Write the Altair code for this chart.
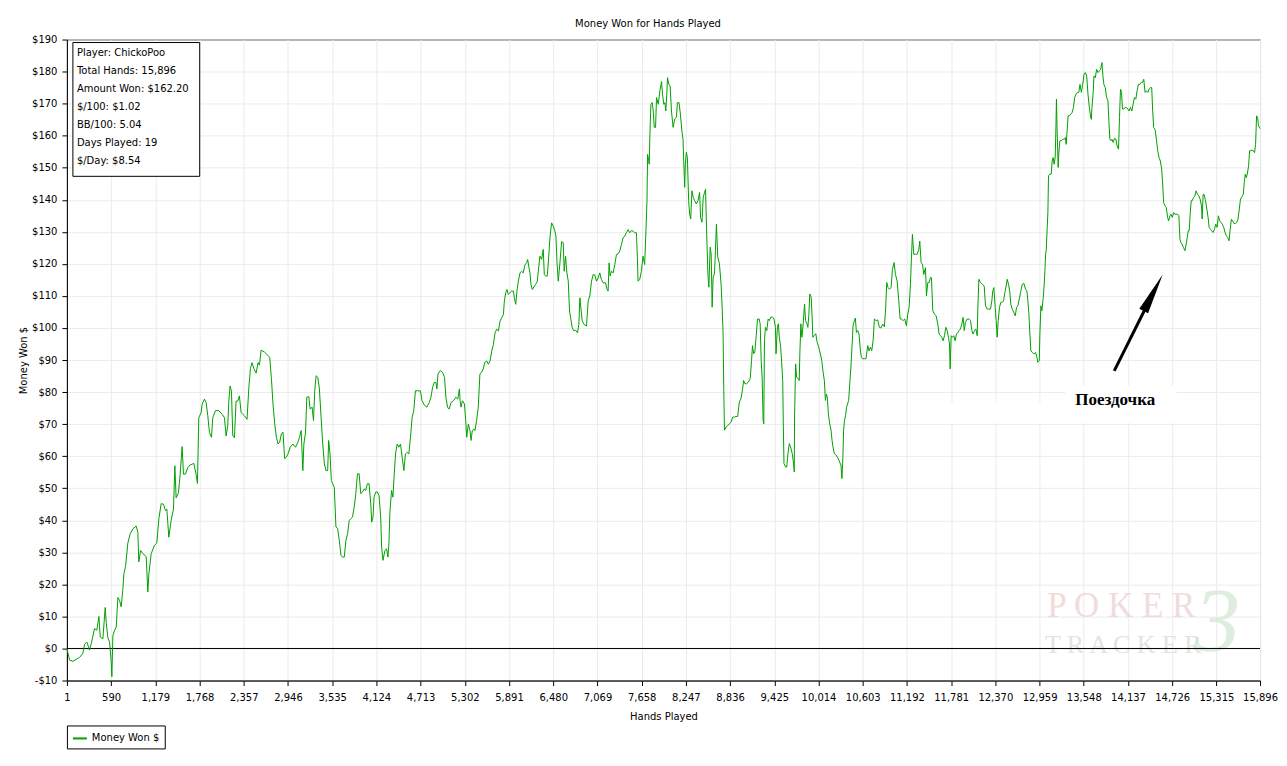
import altair as alt
import pandas as pd

FONT = "DejaVu Sans"
GREEN = "#00a000"

# ---- series: hands played vs. money won ($) ----
hands_a = [1, 36, 81, 125, 170, 214, 236, 267, 303, 325, 369, 400, 427, 445, 480, 511, 525, 547, 569, 591,
           600, 613, 636, 658, 680, 702, 724, 746, 760, 782, 813, 844, 880, 924, 946, 959, 982, 1013, 1057, 1079,
           1093, 1124, 1168, 1199, 1226, 1257, 1288, 1314, 1332, 1359, 1390, 1421, 1439, 1456, 1487, 1510, 1536, 1554, 1581, 1612,
           1643, 1669, 1691, 1722, 1740, 1758, 1789, 1802, 1833, 1856, 1878, 1900, 1927, 1944, 1980, 2024, 2069, 2100, 2122, 2144,
           2158, 2175, 2193, 2211, 2233, 2255, 2277, 2299, 2322, 2366, 2401, 2424, 2446, 2468, 2490, 2521, 2548, 2566, 2588, 2632, 2677]
won_a = [0, -3.6, -4, -3.4, -2.8, -1.5, 1.3, 2, -0.5, 1.5, 6.2, 5.7, 10, 3.6, 3, 12.8, 8, 3.3, 2, -4,
         -8.8, 4, 5.7, 6.7, 15.9, 15, 13, 18.4, 23.3, 25.6, 32.9, 35.8, 37.3, 38.2, 36.3, 27, 30.6, 29.6, 28.7, 17.6,
         23.3, 29.6, 32.2, 32.9, 40.5, 45.2, 45, 43, 43.5, 34.7, 40, 43.5, 57, 47, 48.6, 54.4, 63, 54.4, 54.4, 56.5,
         57.3, 57.5, 57.8, 54.4, 51.5, 72, 73.6, 76.2, 77.8, 76.7, 72.6, 67.4, 65.9, 72, 74.2, 74.2, 73.1, 72, 66.3, 69.5,
         77.2, 81.9, 80.3, 66.3, 65.8, 77.2, 77.2, 78.8, 73.6, 72.6, 71.5, 81.2, 87.4, 89.2, 87.4, 85.9, 89.2, 88.4, 93.1, 92.5, 91.5]

hands_b = [2703, 2726, 2748, 2770, 2792, 2814, 2836, 2858, 2880, 2902, 2924, 2946, 2977, 3012, 3047, 3078, 3100, 3122, 3144, 3158,
           3180, 3197, 3224, 3241, 3268, 3286, 3303, 3321, 3343, 3365, 3387, 3409, 3431, 3453, 3475, 3488, 3506, 3524, 3541, 3563,
           3585, 3608, 3630, 3652, 3674, 3696, 3718, 3740, 3762, 3784, 3806, 3828, 3850, 3872, 3894, 3916, 3938, 3960, 3982, 4004,
           4026, 4049, 4062, 4079, 4093, 4115, 4137, 4159, 4181, 4194, 4212, 4238, 4260, 4278, 4291, 4304, 4326, 4344, 4362, 4379,
           4401, 4423, 4445, 4467, 4490, 4511, 4534, 4556, 4578, 4600, 4622, 4644, 4679, 4710, 4732, 4767, 4798, 4829, 4851, 4873,
           4895, 4917, 4930, 4944, 4975, 5005, 5032, 5050, 5072, 5094, 5120, 5151, 5182, 5208, 5230, 5239, 5252, 5270, 5297, 5314,
           5327, 5349, 5371, 5385, 5402, 5424, 5437, 5459, 5481, 5503, 5525, 5547, 5569]
won_b = [90.8, 84, 75.8, 70, 65.9, 63.8, 64.4, 67, 67.5, 59.2, 59.7, 60.7, 62.8, 63.8, 62.8, 64.4, 65.9, 68, 55.5, 63.8,
         67.5, 78.4, 78.6, 74.7, 75.3, 71.1, 80.4, 85.1, 84.6, 81, 72.1, 63.8, 57.6, 55.5, 55.5, 64.9, 60.7, 52.4, 51.4, 50.3,
         37.9, 37.4, 33.7, 29.1, 28.5, 28.5, 33.7, 35.8, 39.9, 40.5, 41, 44.1, 48.3, 54.5, 54.5, 48.3, 48.8, 49.8, 49.3, 51.4,
         51.4, 45.1, 39.4, 41, 47.2, 48.8, 48.8, 47.7, 41, 31.6, 27.5, 30.6, 31.1, 28.5, 32.7, 42.5, 49.3, 47.2, 54.5, 60.7,
         63.8, 62.8, 63.8, 59.7, 55.5, 60.7, 61.2, 60.7, 65.9, 72.1, 74.2, 80.4, 80.4, 80.4, 77.3, 75.8, 75.3, 76.8, 78.4, 81.5,
         83, 83, 81, 85.6, 86.7, 86.2, 84.6, 78.4, 75.3, 74.7, 76.8, 77.3, 78.4, 77.8, 81, 77.3, 75.3, 77.3, 76.3, 71.1,
         65.9, 70, 68, 64.9, 68, 68.5, 68, 71.1, 75.3, 85.6, 86.2, 87.2, 89.3]

hands_c = [5594, 5616, 5638, 5661, 5683, 5705, 5727, 5749, 5772, 5794, 5816, 5829, 5847, 5864, 5882, 5904, 5926, 5949, 5962, 5980,
           5997, 6015, 6037, 6059, 6081, 6104, 6126, 6139, 6157, 6170, 6183, 6201, 6223, 6245, 6268, 6281, 6303, 6325, 6347, 6361,
           6378, 6400, 6414, 6436, 6458, 6480, 6502, 6516, 6529, 6547, 6569, 6591, 6613, 6626, 6644, 6662, 6680, 6697, 6715, 6733,
           6755, 6777, 6804, 6821, 6835, 6848, 6866, 6892, 6923, 6945, 6967, 6990, 7012, 7034, 7056, 7078, 7100, 7122, 7145, 7176,
           7198, 7211, 7224, 7238, 7255, 7278, 7300, 7322, 7344, 7366, 7388, 7410, 7433, 7455, 7477, 7499, 7521, 7543, 7565, 7588,
           7601, 7610, 7632, 7654, 7676, 7698]
won_c = [89.7, 88.7, 89.7, 92.8, 94.9, 98.5, 99.6, 99.1, 102.2, 103.2, 104.2, 108.4, 111, 112, 110.5, 111, 111.5, 111.5, 109.4, 107.4,
         111.5, 114.6, 117.2, 117.7, 117.2, 119.8, 120.3, 121.4, 118.8, 117.2, 113.6, 112, 112.8, 113.6, 114.6, 117.7, 122.4, 121.4, 124.5, 116.7,
         116.2, 116.2, 120.3, 128.1, 132.8, 131.8, 130.2, 128.7, 120.9, 114.6, 120.3, 126.9, 126.6, 117.7, 122.4, 117.2, 114.6, 105.3, 102.7, 100.1,
         99.1, 99.3, 98.5, 101.1, 109.4, 106.3, 102.2, 101.1, 100.6, 108.4, 110, 114.6, 116.7, 116.5, 114.6, 115.6, 117.2, 115.1, 114.1, 114.1,
         112, 111.5, 120.3, 116.2, 117.7, 117.2, 119.8, 122.9, 123.1, 124, 126, 128.1, 128.7, 129.7, 130.7, 129.7, 130.4, 130.2, 129.7, 129.7,
         121.9, 114.6, 115.1, 117.7, 122.4, 119.8]

hands_d = [7715, 7729, 7737, 7751, 7759, 7768, 7781, 7799, 7812, 7826, 7843, 7856, 7879, 7901, 7923, 7936, 7953, 7967, 7980, 7993,
           8002, 8020, 8037, 8055, 8077, 8099, 8121, 8134, 8156, 8174, 8196, 8209, 8218, 8231, 8240, 8253, 8267, 8284, 8297, 8311,
           8328, 8346, 8364, 8386, 8408, 8430, 8443, 8461, 8478, 8496, 8509, 8522, 8540, 8553, 8571, 8584, 8597, 8610, 8628, 8641,
           8654, 8672, 8694, 8716, 8730, 8743, 8752, 8761, 8783, 8805, 8827, 8849, 8871, 8893, 8915, 8937, 8959, 8981, 9003, 9016,
           9034, 9056, 9078, 9104, 9122, 9135, 9149, 9166, 9184, 9202, 9224, 9237, 9250, 9263, 9276, 9285, 9294, 9307, 9325, 9343,
           9361, 9378, 9400, 9422, 9440, 9448, 9466, 9479, 9492, 9510, 9523, 9537, 9545, 9554, 9576, 9590, 9607, 9625, 9642, 9664,
           9682, 9691, 9695, 9709, 9722, 9740, 9757, 9766, 9779, 9792, 9810, 9828, 9841, 9859, 9872, 9885, 9898, 9916, 9929, 9938,
           9960, 9978, 9995, 10017, 10039, 10057, 10075, 10092, 10106, 10119, 10132, 10145, 10163, 10181, 10194, 10207, 10225, 10251, 10277, 10295,
           10313, 10326, 10339, 10348, 10361, 10375, 10388]
won_d = [130.4, 139.7, 154.2, 152.2, 151.1, 160.5, 169.8, 170.3, 167.7, 162.6, 162.6, 171.9, 169.8, 174, 176.9, 172.9, 169.8, 170.3, 167.7, 172.9,
         178.1, 176.1, 175.5, 167.7, 162.6, 165.2, 165.7, 170.3, 170.3, 166.7, 161, 158.9, 152.2, 143.9, 151.1, 154.8, 153.2, 139.7, 135.6, 134,
         142.8, 140.7, 139.7, 138.7, 139.7, 142.3, 134.5, 133, 140.7, 142.3, 143.3, 131.4, 116.9, 112.7, 125.2, 123.1, 106.5, 115.8, 116.9, 124.1,
         132.4, 122.1, 120, 113.7, 106.5, 98.2, 80.5, 68.1, 69.1, 69.6, 70.1, 70.6, 72.2, 72.2, 72.4, 72.4, 76.9, 77.9, 81, 83.6,
         82.6, 82.6, 83.1, 84.2, 89.9, 94.5, 92, 92.5, 97.7, 102.8, 102.8, 101.3, 89.9, 84.7, 71.2, 70.1, 96.1, 100.2, 99.2, 102.8,
         102.3, 103.4, 103.4, 102.8, 100.2, 91.9, 100.2, 101.3, 97.1, 94, 89.3, 83.6, 70.1, 57.7, 56.6, 56.6, 60.8, 63.9, 62.9, 60.8,
         57.7, 55.1, 72.2, 88.8, 84.7, 84.2, 83.6, 92.5, 101.3, 97.1, 101.3, 107.5, 102.3, 101.3, 100.2, 103.9, 110.6, 109.6, 103.4, 97.1,
         97.7, 98.2, 95.6, 94, 91.9, 89.9, 86.2, 83.6, 77.4, 79.4, 78.3, 73.2, 70.1, 68.1, 65, 62.9, 60.8, 60.3, 59.2, 58.2,
         57.2, 53, 59.8, 68.1, 71.2, 72.7, 75.3]

hands_e = [10416, 10430, 10447, 10461, 10474, 10492, 10505, 10519, 10536, 10554, 10572, 10585, 10603, 10625, 10647, 10670, 10687, 10705, 10723, 10741,
           10759, 10781, 10803, 10825, 10847, 10870, 10892, 10910, 10923, 10941, 10959, 10981, 10999, 11021, 11039, 11061, 11083, 11101, 11119, 11141,
           11163, 11185, 11203, 11221, 11239, 11252, 11265, 11283, 11305, 11328, 11350, 11363, 11381, 11399, 11416, 11439, 11452, 11470, 11488, 11505,
           11519, 11536, 11559, 11581, 11603, 11621, 11639, 11656, 11674, 11692, 11710, 11728, 11745, 11759, 11768, 11781, 11799, 11816, 11834, 11852,
           11870, 11888, 11905, 11923, 11941, 11955, 11972, 11994, 12017, 12039, 12057, 12074, 12092, 12110, 12128, 12137, 12150, 12172, 12199, 12221,
           12239, 12261, 12283, 12305, 12323, 12336, 12350, 12368, 12381, 12394, 12408, 12425, 12443, 12461, 12479, 12497, 12514, 12528, 12546, 12563,
           12576, 12594, 12617, 12635, 12652, 12670, 12688, 12706, 12728, 12750, 12772, 12790, 12803, 12817, 12830, 12843, 12861, 12883, 12906, 12923,
           12937, 12955, 12963, 12977, 12990]
won_e = [77.4, 82.6, 88.3, 94.5, 100.7, 102.3, 103.1, 98.6, 99.2, 98.1, 92.9, 90.9, 90.4, 90.4, 90.4, 94.5, 92.9, 94, 92.9, 96,
         102.8, 102.3, 102.5, 100.2, 100, 101.2, 100.4, 106.9, 114.2, 112.6, 112.1, 112.6, 118.3, 120.4, 116.7, 114.7, 108.5, 102.8, 102.8, 102.3,
         102.8, 100.7, 104.3, 106.4, 113.6, 121.9, 129.2, 123, 123, 123, 124.5, 127.1, 120.4, 119.9, 116.7, 118.8, 110, 114.2, 114.2, 115.7,
         115.7, 105.4, 104.3, 103.8, 101.2, 98.1, 97.6, 97.1, 96, 97.6, 100.2, 99.2, 97.1, 95, 87.2, 97.6, 97.1, 97.6, 96, 98.1,
         98.6, 99.2, 99.7, 101.2, 103.3, 99.2, 101.8, 102.8, 102.8, 102.3, 99.2, 98.1, 99.2, 99.7, 97.6, 106.4, 115.2, 114.2, 113.6, 113.1,
         106.9, 105.9, 105.9, 105.9, 108.5, 111.6, 112.6, 106.4, 102.3, 97.1, 102.3, 106.4, 108, 108, 108.5, 111.1, 113.1, 115.2, 113.6, 111.1,
         107.4, 105.9, 104.8, 103.8, 106.4, 106.9, 109, 111.1, 113.6, 113.9, 112.1, 111.6, 108.5, 104.3, 98.1, 92.9, 92.4, 91.9, 92.4, 90.9,
         89.3, 89.8, 98.1, 106.9, 105.4]

hands_f = [13008, 13021, 13030, 13039, 13047, 13061, 13070, 13078, 13096, 13114, 13127, 13140, 13153, 13167, 13176, 13184, 13193, 13207, 13215, 13229,
           13246, 13268, 13291, 13304, 13313, 13326, 13339, 13357, 13374, 13392, 13410, 13427, 13445, 13463, 13481, 13498, 13516, 13534, 13551, 13569,
           13587, 13604, 13622, 13640, 13649, 13657, 13671, 13684, 13702, 13719, 13737, 13755, 13772, 13790, 13803, 13816, 13834, 13852, 13870, 13883,
           13896, 13909, 13923, 13940, 13958, 13976, 13993, 14011, 14024, 14037, 14051, 14064, 14082, 14099, 14117, 14135, 14152, 14170, 14188, 14205,
           14223, 14241, 14258, 14276, 14294, 14312, 14329, 14347, 14365, 14382, 14400, 14418, 14435, 14453, 14466, 14479, 14497, 14515, 14533, 14550,
           14568, 14586, 14599, 14612, 14630, 14647, 14665, 14678, 14696, 14709, 14727, 14745, 14762, 14780, 14798, 14815, 14829, 14842, 14856, 14877,
           14895, 14913, 14926, 14939, 14952, 14965, 14979, 14992, 15010, 15028, 15045, 15063, 15081, 15098, 15116, 15125, 15138, 15151, 15165, 15178,
           15191, 15204, 15218, 15235, 15253, 15271, 15288, 15306, 15324, 15341, 15359, 15377, 15394, 15412, 15430, 15447, 15465, 15483, 15496, 15514,
           15531, 15549, 15567, 15584, 15602, 15620, 15633, 15646, 15660, 15673, 15686, 15699, 15713, 15726, 15744, 15757, 15770, 15788, 15806, 15823,
           15837, 15850, 15863, 15876, 15896]
won_f = [109.5, 113.7, 117.8, 123, 124.1, 131.4, 136, 147.5, 148, 148, 152.1, 153.2, 151.1, 153.2, 161.5, 171.4, 161.5, 150.1, 154.2, 158.4,
         158.4, 158.9, 158.9, 159.4, 157.3, 161.5, 166.2, 166.2, 166.7, 167.2, 168.8, 171.9, 172.9, 173.5, 173.5, 176, 173.5, 176, 179.2, 179.7,
         178.6, 172.9, 168.8, 165.7, 165.1, 168.8, 172.9, 178.6, 178.1, 180.7, 179.7, 180.2, 180.7, 182.8, 178.6, 176, 175, 171.9, 170.9, 164.1,
         158.9, 158.4, 158.9, 157.9, 159.2, 158.9, 156.8, 155.8, 165.7, 174.5, 173.5, 168.3, 168.3, 168.8, 168.8, 168.3, 167.7, 168.8, 167.7, 169.8,
         171.9, 171.4, 174, 176, 176, 176.6, 176.6, 177.6, 173.5, 174, 173.5, 174.5, 175, 175, 167.7, 162.5, 162, 158.9, 155.3, 153.2,
         152.1, 149.5, 144.9, 139.1, 138.1, 137.6, 134.5, 133.4, 135, 135.5, 134.5, 136, 135.5, 135.5, 135.5, 135, 127.7, 126.7, 126.2, 125.1,
         124.1, 126.2, 128.2, 130.3, 130.3, 135.5, 139.7, 139.7, 140.7, 141.2, 142.8, 141.7, 141.2, 140.2, 138.1, 134, 141.7, 141.7, 140.2, 138.6,
         136.5, 134.5, 131.4, 130.8, 130.3, 129.8, 130.8, 132.4, 131.4, 135, 133.4, 132.9, 132.4, 131.4, 129.8, 128.8, 128.2, 127.2, 130.3, 133.9,
         133.4, 132.6, 132.6, 132.9, 133.9, 137.1, 139.7, 140.7, 141.2, 141.7, 145.4, 148, 146.9, 148, 150.6, 155.3, 155.3, 155.5, 155.3, 154.7,
         157.3, 166.2, 165.7, 163.1, 162.2]

# ---- axes ----
x_tick_values = [1, 590, 1179, 1768, 2357, 2946, 3535, 4124, 4713, 5302, 5891, 6480, 7069, 7658,
                 8247, 8836, 9425, 10014, 10603, 11192, 11781, 12370, 12959, 13548, 14137, 14726, 15315, 15896]
y_tick_values = [-10, 0, 10, 20, 30, 40, 50, 60, 70, 80, 90, 100, 110, 120, 130, 140, 150, 160, 170, 180, 190]

# ---- stats box ----
info_lines = ["Player: ChickoPoo", "Total Hands: 15,896", "Amount Won: $162.20", "$/100: $1.02",
              "BB/100: 5.04", "Days Played: 19", "$/Day: $8.54"]

# ---- annotation (in data units) ----
note_text = ["Поездочка"]
note_hands = [13967]
note_won = [77.5]
arrow_from_hands, arrow_from_won = [13954], [86.6]
arrow_head_hands, arrow_head_won = [14473], [111.0]

series_name = "Money Won $"
hands = hands_a + hands_b + hands_c + hands_d + hands_e + hands_f
won = won_a + won_b + won_c + won_d + won_e + won_f
df = pd.DataFrame({"hands": hands, "won": won, "series": series_name})

x_enc = alt.X("hands:Q",
              scale=alt.Scale(domain=[1, 15896], nice=False, zero=False),
              axis=alt.Axis(values=x_tick_values, title="Hands Played",
                            labelExpr="format(datum.value, ',')",
                            tickSize=5, labelPadding=7, titlePadding=9,
                            labelFlush=False, labelOverlap=False))
y_enc = alt.Y("won:Q",
              scale=alt.Scale(domain=[-10, 190], nice=False, zero=False),
              axis=alt.Axis(values=y_tick_values, title="Money Won $",
                            labelExpr="(datum.value < 0 ? '-$' : '$') + abs(datum.value)",
                            tickSize=5, labelPadding=5, titlePadding=3, labelOverlap=False))

one = pd.DataFrame({"k": [0]})

patch_a = alt.Chart(one).mark_rect(color="white").encode(
    x=alt.value(878), x2=alt.value(1113), y=alt.value(364), y2=alt.value(384))
patch_b = alt.Chart(one).mark_rect(color="white").encode(
    x=alt.value(1000), x2=alt.value(1111), y=alt.value(347), y2=alt.value(384))

wm_poker = alt.Chart(one).mark_text(text="P O K E R", font="Liberation Serif", fontSize=35,
                                    color="#eed4d4", opacity=0.8, align="center", baseline="middle").encode(
    x=alt.value(1056), y=alt.value(567))
wm_tracker = alt.Chart(one).mark_text(text="T R A C K E R", font="Liberation Serif", fontSize=26,
                                      color="#dde3dd", opacity=0.9, align="center", baseline="middle").encode(
    x=alt.value(1058), y=alt.value(606))
wm_three = alt.Chart(one).mark_text(text="3", font="Liberation Serif", fontSize=92, fontStyle="italic",
                                    color="#d6e9d6", opacity=0.8, align="center", baseline="middle").encode(
    x=alt.value(1152), y=alt.value(584))

zero_rule = alt.Chart(pd.DataFrame({"won": [0]})).mark_rule(color="black", strokeWidth=1).encode(y=y_enc)

line = alt.Chart(df).mark_line(strokeWidth=1, interpolate="linear").encode(
    x=x_enc, y=y_enc,
    color=alt.Color("series:N",
                    scale=alt.Scale(domain=[series_name], range=[GREEN]),
                    legend=alt.Legend(title=None, orient="none", legendX=0, legendY=687,
                                      strokeColor="black", fillColor="white", padding=5,
                                      labelFont=FONT, labelFontSize=10, labelColor="black",
                                      symbolType="stroke", symbolSize=196, symbolStrokeWidth=2,
                                      labelOffset=4)))

info_box = alt.Chart(one).mark_rect(fill="white", stroke="black", strokeWidth=1).encode(
    x=alt.value(6), x2=alt.value(133), y=alt.value(3), y2=alt.value(137))
info_df = pd.DataFrame({"line": info_lines, "row": list(range(len(info_lines)))})
info_text = alt.Chart(info_df).mark_text(font=FONT, fontSize=10, color="black",
                                         align="left", baseline="middle").transform_calculate(
    ypos="13.5 + 18 * datum.row").encode(
    x=alt.value(10), y=alt.Y("ypos:Q", scale=None), text="line:N")

note_df = pd.DataFrame({"hands": note_hands, "won": note_won, "label": note_text})
note = alt.Chart(note_df).mark_text(font="Liberation Serif", fontSize=17, fontWeight="bold",
                                    color="black", align="center", baseline="middle").encode(
    x=x_enc, y=y_enc, text="label:N")

arrow_df = pd.DataFrame({"hands": arrow_from_hands, "won": arrow_from_won,
                         "hands2": arrow_head_hands, "won2": arrow_head_won})
arrow_shaft = alt.Chart(arrow_df).mark_rule(color="black", strokeWidth=3).encode(
    x=x_enc, y=y_enc, x2="hands2:Q", y2="won2:Q")
head_df = pd.DataFrame({"hands": arrow_head_hands, "won": arrow_head_won})
arrow_head = alt.Chart(head_df).mark_point(shape="M0,-1L0.24,1L-0.24,1Z", filled=True, color="black",
                                           opacity=1, size=1700, angle=27.5).encode(x=x_enc, y=y_enc)

chart = alt.layer(
    patch_a, patch_b, wm_poker, wm_tracker, wm_three, zero_rule, line,
    info_box, info_text, note, arrow_shaft, arrow_head
).properties(
    width=1195, height=642,
    title=alt.TitleParams("Money Won for Hands Played", font=FONT, fontSize=10,
                          fontWeight="normal", color="black", anchor="middle", offset=6,
                          frame="bounds"),
    padding={"left": 59, "top": 31, "right": 19, "bottom": 72},
    autosize=alt.AutoSizeParams(type="none"),
    background="white",
).configure_axis(
    grid=True, gridColor="#ebebeb", gridWidth=1,
    domainColor="black", tickColor="black",
    labelColor="black", titleColor="black",
    labelFont=FONT, titleFont=FONT, labelFontSize=10, titleFontSize=10,
    titleFontWeight="normal",
).configure_view(stroke="black", strokeWidth=1)

chart.save("out.html", embed_options={"renderer": "svg", "actions": False})
